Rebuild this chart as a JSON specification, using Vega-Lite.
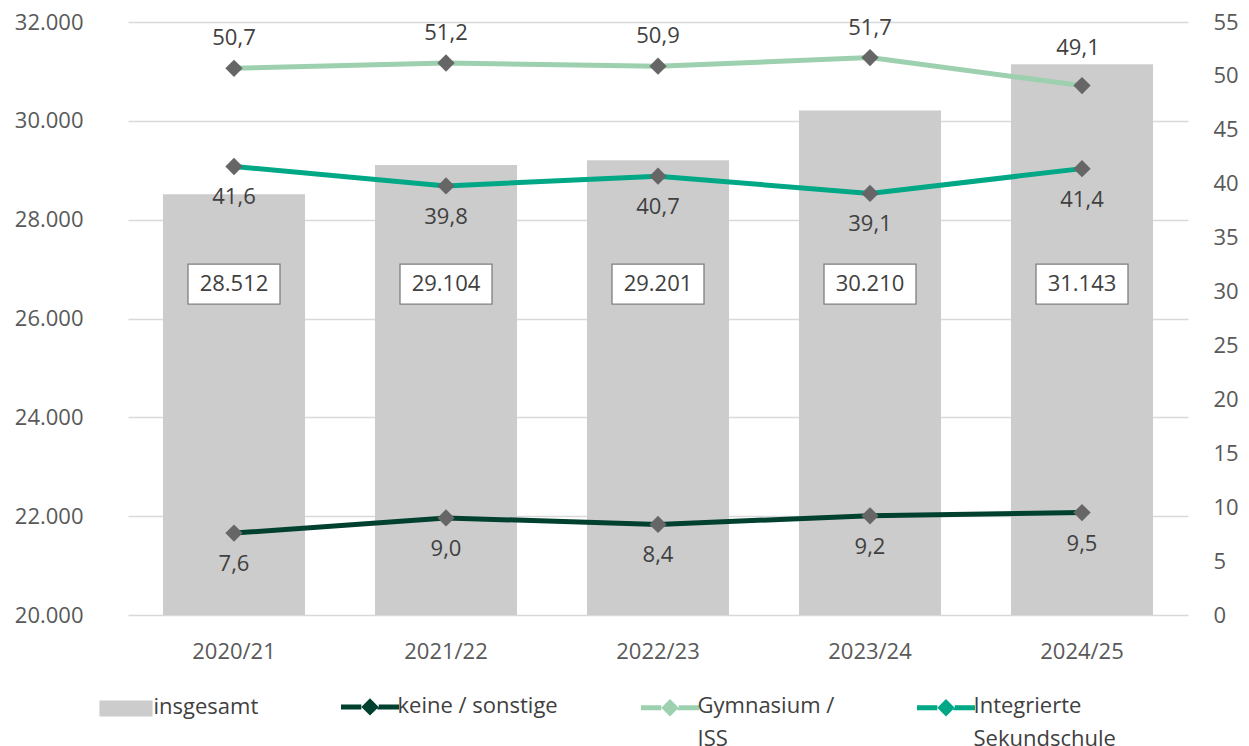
{
  "$schema": "https://vega.github.io/schema/vega-lite/v6.json",
  "width": 1060,
  "height": 593,
  "autosize": {"type": "none"},
  "padding": {"left": 128, "top": 22, "right": 61, "bottom": 131},
  "background": "white",
  "config": {
    "view": {"stroke": null},
    "locale": {"number": {"decimal": ",", "thousands": ".", "grouping": [3], "currency": ["", " €"]}},
    "font": "Open Sans",
    "axis": {"labelFont": "Open Sans", "labelFontSize": 22, "labelColor": "#595959", "ticks": false, "domain": false, "title": null},
    "legend": {
      "orient": "none", "legendX": -33.5, "legendY": 641, "direction": "horizontal", "columns": 4,
      "title": null, "symbolSize": 3364, "symbolStrokeWidth": 5, "labelFont": "Open Sans", "labelFontSize": 22, "labelColor": "#404040",
      "labelOffset": -4, "columnPadding": 72, "labelLimit": 300, "padding": 0, "labelBaseline": "top"
    }
  },
  "data": {
    "values": [
      {"year": "2020/21", "series": "insgesamt", "value": 28512},
      {"year": "2021/22", "series": "insgesamt", "value": 29104},
      {"year": "2022/23", "series": "insgesamt", "value": 29201},
      {"year": "2023/24", "series": "insgesamt", "value": 30210},
      {"year": "2024/25", "series": "insgesamt", "value": 31143},
      {"year": "2020/21", "series": "keine / sonstige", "value": 7.6},
      {"year": "2021/22", "series": "keine / sonstige", "value": 9.0},
      {"year": "2022/23", "series": "keine / sonstige", "value": 8.4},
      {"year": "2023/24", "series": "keine / sonstige", "value": 9.2},
      {"year": "2024/25", "series": "keine / sonstige", "value": 9.5},
      {"year": "2020/21", "series": "Gymnasium / ISS", "value": 50.7},
      {"year": "2021/22", "series": "Gymnasium / ISS", "value": 51.2},
      {"year": "2022/23", "series": "Gymnasium / ISS", "value": 50.9},
      {"year": "2023/24", "series": "Gymnasium / ISS", "value": 51.7},
      {"year": "2024/25", "series": "Gymnasium / ISS", "value": 49.1},
      {"year": "2020/21", "series": "Integrierte Sekundschule", "value": 41.6},
      {"year": "2021/22", "series": "Integrierte Sekundschule", "value": 39.8},
      {"year": "2022/23", "series": "Integrierte Sekundschule", "value": 40.7},
      {"year": "2023/24", "series": "Integrierte Sekundschule", "value": 39.1},
      {"year": "2024/25", "series": "Integrierte Sekundschule", "value": 41.4}
    ]
  },
  "encoding": {
    "x": {
      "field": "year", "type": "ordinal",
      "scale": {"paddingInner": 0.33, "paddingOuter": 0.165},
      "axis": {"labelAngle": 0, "labelPadding": 26, "grid": false}
    }
  },
  "layer": [
    {
      "transform": [{"filter": "datum.series === 'insgesamt'"}],
      "encoding": {
        "y": {
          "field": "value", "type": "quantitative",
          "scale": {"domain": [20000, 32000], "zero": false, "nice": false},
          "axis": {"values": [20000, 22000, 24000, 26000, 28000, 30000, 32000], "grid": true, "gridColor": "#D9D9D9", "gridWidth": 1.3, "labelPadding": 45, "format": ",d"}
        }
      },
      "layer": [
        {
          "mark": {"type": "bar", "opacity": 1},
          "encoding": {
            "y2": {"datum": 20000},
            "color": {
              "field": "series", "type": "nominal",
              "scale": {"domain": ["insgesamt", "keine / sonstige", "Gymnasium / ISS", "Integrierte Sekundschule"], "range": ["#CCCCCC", "#00402F", "#9DD0AF", "#00A886"]},
              "legend": {
                "labelExpr": "datum.label === 'Gymnasium / ISS' ? ['Gymnasium /', 'ISS'] : datum.label === 'Integrierte Sekundschule' ? ['Integrierte', 'Sekundschule'] : datum.label",
                "encode": {
                  "symbols": {"update": {
                    "shape": {"signal": "datum.value === 'insgesamt' ? 'M-0.83,-0.604H0.83V-0.224H-0.83Z' : datum.value === 'keine / sonstige' ? 'M-1,-0.414H-0.3L0,-0.714L0.3,-0.414L0,-0.114L-0.3,-0.414L0,-0.714L0.3,-0.414H1' : 'M-1,0.448H-0.3L0,0.148L0.3,0.448L0,0.748L-0.3,0.448L0,0.148L0.3,0.448H1'"},
                    "fill": {"signal": "datum.value === 'insgesamt' ? '#CCCCCC' : '#666666'"},
                    "stroke": {"signal": "scale('color', datum.value)"},
                    "strokeWidth": {"value": 5},
                    "strokeDash": {"signal": "datum.value === 'insgesamt' ? [1000, 10] : [20.3, 73.8, 20.3, 400]"},
                    "opacity": {"value": 1}
                  }},
                  "labels": {"update": {"dy": {"signal": "datum.value === 'Gymnasium / ISS' || datum.value === 'Integrierte Sekundschule' ? 1 : -23"}, "lineHeight": {"value": 33}}}
                }
              }
            }
          }
        },
        {
          "mark": {"type": "bar", "size": 92, "fill": "white", "stroke": "#7F7F7F", "strokeWidth": 1.3},
          "encoding": {"y": {"datum": 26290}, "y2": {"datum": 27100}}
        },
        {
          "mark": {"type": "text", "fontSize": 22, "color": "#404040", "baseline": "middle"},
          "encoding": {"y": {"datum": 26698}, "text": {"field": "value", "type": "quantitative", "format": ",d"}}
        }
      ]
    },
    {
      "transform": [{"filter": "datum.series !== 'insgesamt'"}],
      "encoding": {
        "y": {
          "field": "value", "type": "quantitative",
          "scale": {"domain": [0, 55], "nice": false},
          "axis": {"orient": "right", "values": [0, 5, 10, 15, 20, 25, 30, 35, 40, 45, 50, 55], "grid": false, "labelPadding": 25}
        }
      },
      "layer": [
        {
          "mark": {"type": "line", "strokeWidth": 5},
          "encoding": {
            "color": {
              "field": "series", "type": "nominal",
              "scale": {"domain": ["insgesamt", "keine / sonstige", "Gymnasium / ISS", "Integrierte Sekundschule"], "range": ["#CCCCCC", "#00402F", "#9DD0AF", "#00A886"]},
              "legend": {
                "labelExpr": "datum.label === 'Gymnasium / ISS' ? ['Gymnasium /', 'ISS'] : datum.label === 'Integrierte Sekundschule' ? ['Integrierte', 'Sekundschule'] : datum.label",
                "encode": {
                  "symbols": {"update": {
                    "shape": {"signal": "datum.value === 'insgesamt' ? 'M-0.83,-0.604H0.83V-0.224H-0.83Z' : datum.value === 'keine / sonstige' ? 'M-1,-0.414H-0.3L0,-0.714L0.3,-0.414L0,-0.114L-0.3,-0.414L0,-0.714L0.3,-0.414H1' : 'M-1,0.448H-0.3L0,0.148L0.3,0.448L0,0.748L-0.3,0.448L0,0.148L0.3,0.448H1'"},
                    "fill": {"signal": "datum.value === 'insgesamt' ? '#CCCCCC' : '#666666'"},
                    "stroke": {"signal": "scale('color', datum.value)"},
                    "strokeWidth": {"value": 5},
                    "strokeDash": {"signal": "datum.value === 'insgesamt' ? [1000, 10] : [20.3, 73.8, 20.3, 400]"},
                    "opacity": {"value": 1}
                  }},
                  "labels": {"update": {"dy": {"signal": "datum.value === 'Gymnasium / ISS' || datum.value === 'Integrierte Sekundschule' ? 1 : -23"}, "lineHeight": {"value": 33}}}
                }
              }
            }
          }
        },
        {
          "mark": {"type": "point", "shape": "diamond", "filled": true, "size": 300, "color": "#666666", "opacity": 1}
        },
        {
          "transform": [{"filter": "datum.series === 'Gymnasium / ISS' && datum.year !== '2024/25'"}],
          "mark": {"type": "text", "fontSize": 22, "color": "#404040", "dy": -30, "baseline": "middle"},
          "encoding": {"text": {"field": "value", "type": "quantitative", "format": ".1f"}}
        },
        {
          "transform": [{"filter": "datum.series === 'Gymnasium / ISS' && datum.year === '2024/25'"}],
          "mark": {"type": "text", "fontSize": 22, "color": "#404040", "dy": -38, "dx": -4, "baseline": "middle"},
          "encoding": {"text": {"field": "value", "type": "quantitative", "format": ".1f"}}
        },
        {
          "transform": [{"filter": "datum.series !== 'Gymnasium / ISS'"}],
          "mark": {"type": "text", "fontSize": 22, "color": "#404040", "dy": 31, "baseline": "middle"},
          "encoding": {"text": {"field": "value", "type": "quantitative", "format": ".1f"}}
        }
      ]
    }
  ],
  "resolve": {"scale": {"y": "independent"}}
}
